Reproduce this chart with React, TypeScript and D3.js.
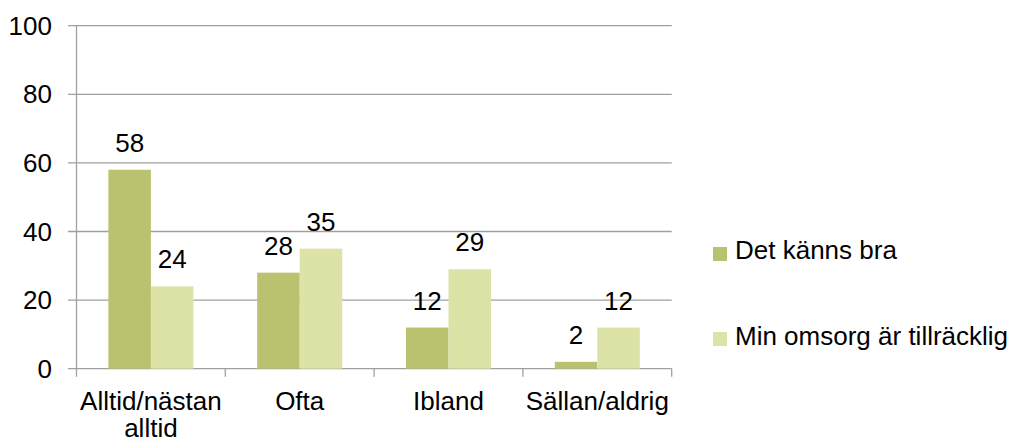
import React from "react";
import * as d3 from "d3";

const categories = ["Alltid/nästan alltid", "Ofta", "Ibland", "Sällan/aldrig"];
const categoryLines = [["Alltid/nästan", "alltid"], ["Ofta"], ["Ibland"], ["Sällan/aldrig"]];
const seriesNames = ["Det känns bra", "Min omsorg är tillräcklig"];
const seriesA = [58, 28, 12, 2];
const seriesB = [24, 35, 29, 12];
const yTicks = [0, 20, 40, 60, 80, 100];
const colors = ["#BBC26F", "#DDE2A7"];

const W = 1016;
const H = 441;
const FONT = "'Liberation Sans', Arial, sans-serif";
const FS = 26;

export default function App() {
  const left = 76.5, right = 671.7, top = 25.7, bottom = 368.7;
  const x0 = d3.scaleBand<string>().domain(categories).range([left, right]).padding(0);
  const x1 = d3
    .scaleBand<string>()
    .domain(seriesNames)
    .range([0, x0.bandwidth()])
    .paddingInner(0)
    .paddingOuter(0.75);
  const y = d3.scaleLinear().domain([0, 100]).range([bottom, top]);
  const values = [seriesA, seriesB];
  const grid = "#A0A0A0";

  return (
    <svg
      width={W}
      height={H}
      style={{ position: "absolute", left: 0, top: 0, background: "#fff" }}
      fontFamily={FONT}
    >
      {yTicks.map((t) => (
        <g key={t}>
          <line x1={68} x2={right} y1={y(t)} y2={y(t)} stroke={grid} strokeWidth={1.3} />
          <text x={52} y={y(t)} dy="0.35em" textAnchor="end" fontSize={FS} fill="#000">
            {t}
          </text>
        </g>
      ))}
      <line x1={left} x2={left} y1={top} y2={bottom} stroke={grid} strokeWidth={1.3} />
      {[...categories.map((c) => x0(c)!), right].map((xv, i) => (
        <line key={i} x1={xv} x2={xv} y1={bottom} y2={bottom + 8} stroke={grid} strokeWidth={1.3} />
      ))}
      {categories.map((c, ci) =>
        values.map((vals, si) => {
          const bx = x0(c)! + x1(seriesNames[si])!;
          const v = vals[ci];
          return (
            <g key={c + si}>
              <rect x={bx} y={y(v)} width={x1.bandwidth()} height={bottom - y(v)} fill={colors[si]} />
              <text x={bx + x1.bandwidth() / 2} y={y(v) - 18} textAnchor="middle" fontSize={FS} fill="#000">
                {v}
              </text>
            </g>
          );
        })
      )}
      {categories.map((c, ci) => (
        <text key={c} x={x0(c)! + x0.bandwidth() / 2} y={410} textAnchor="middle" fontSize={FS} fill="#000">
          {categoryLines[ci].map((ln, li) => (
            <tspan key={li} x={x0(c)! + x0.bandwidth() / 2} dy={li === 0 ? 0 : 27}>
              {ln}
            </tspan>
          ))}
        </text>
      ))}
      {seriesNames.map((s, si) => (
        <g key={s}>
          <rect x={713} y={247 + si * 85} width={14} height={14} fill={colors[si]} />
          <text x={735} y={259 + si * 86} fontSize={FS} fill="#000">
            {s}
          </text>
        </g>
      ))}
    </svg>
  );
}
